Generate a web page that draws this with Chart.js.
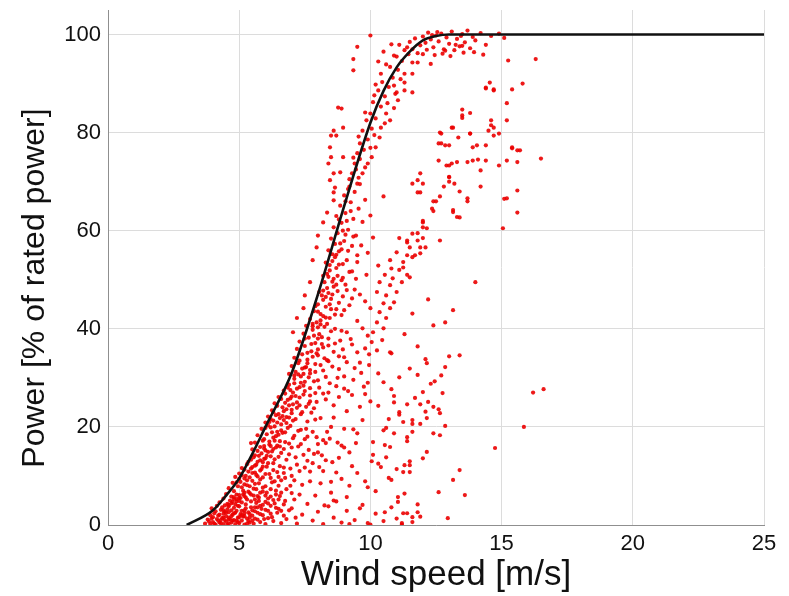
<!DOCTYPE html>
<html>
<head>
<meta charset="utf-8">
<script src="https://cdn.jsdelivr.net/npm/chart.js@4.4.1/dist/chart.umd.min.js"></script>
<style>
  html, body { margin: 0; padding: 0; background: #fff; }
  #wrap { width: 789px; height: 596px; }
</style>
</head>
<body>
<div id="wrap"><canvas id="powerChart" width="789" height="596"></canvas></div>
<script>
// --- axis ticks ---
const xTicks = [0, 5, 10, 15, 20, 25];
const yTicks = [0, 20, 40, 60, 80, 100];

// --- power curve (wind speed m/s, % of rated power) ---
const curveSpeed = [3, 4, 4.5, 5, 5.5, 6, 7, 8, 9, 10, 10.5, 11, 11.5, 12, 12.5, 13, 25];
const curvePower = [0, 3, 6, 9.5, 14.5, 20, 31, 47, 65, 82, 88.5, 93.3, 96.5, 98.8, 99.7, 100, 100];

const bottomDense = [
  [3.7,0.3],[3.8,1.1],[3.9,0.2],[3.9,2.0],[4.0,0.6],[4.0,1.6],[4.1,0.1],[4.1,2.8],[4.2,0.9],[4.2,1.9],
  [4.3,0.4],[4.3,3.1],[4.35,1.4],[4.4,0.2],[4.4,2.3],[4.45,4.0],[4.5,0.7],[4.5,1.8],[4.55,3.2],[4.6,0.3],
  [4.6,2.6],[4.65,1.2],[4.7,4.4],[4.7,0.5],[4.75,2.1],[4.8,3.5],[4.8,1.0],[4.85,0.2],[4.9,2.9],[4.9,4.8],
  [4.95,1.5],[5.0,0.4],[5.0,3.8],[5.05,2.2],[5.1,0.9],[5.1,4.6],[5.15,1.7],[5.2,3.0],[5.2,0.1],[5.25,4.2],
  [5.3,1.3],[5.35,2.6],[5.4,0.5],[5.45,3.6],[5.5,1.9],[5.55,0.3],[5.6,2.8],[5.65,4.5],[5.7,1.1],[5.8,0.6],
  [5.85,3.3],[5.9,2.0],[6.0,0.2],[6.1,1.4],[6.2,3.9],[6.3,0.8],[6.45,2.5],[6.6,0.4],[4.25,4.6],[4.65,5.0],
  [3.95,3.4],[4.15,3.9],[4.55,0.1],[4.85,4.2],[5.35,0.8],[5.75,4.9],
  [3.85,0.7],[3.95,1.3],[4.05,2.4],[4.05,0.3],[4.15,1.2],[4.25,2.1],[4.25,0.5],[4.35,3.6],[4.45,1.0],[4.45,2.7],
  [4.55,4.3],[4.6,1.5],[4.7,3.0],[4.75,0.9],[4.8,5.3],[4.85,2.5],[4.95,3.9],[4.95,0.6],[5.05,5.5],[5.1,2.9],
  [5.15,6.2],[5.2,1.8],[5.25,3.4],[5.3,5.2],[5.35,6.8],[5.4,2.2],[5.45,4.8],[5.5,0.9],[5.55,6.0],[5.6,3.6],
  [5.65,7.3],[5.7,2.5],[5.75,5.6],[5.8,3.9],[5.9,7.6],[5.95,1.2],[6.0,4.7],[6.05,6.6],[6.1,2.9],[6.2,5.8],
  [6.25,1.6],[6.35,4.4],[6.4,7.0],[6.5,3.3],[6.55,5.9],[6.7,1.9],[6.75,4.9],[6.9,3.0],[7.0,6.5],[7.15,1.5],
  [4.3,1.0],[4.4,1.5],[4.5,2.5],[4.6,1.1],[4.7,1.8],[4.8,2.4],[4.9,0.9],[5.0,1.6],[5.1,2.0],[5.2,2.4],
  [5.3,0.3],[5.4,1.5],[5.5,3.0],[5.6,1.3],[5.7,3.6],[5.8,2.2],[5.9,4.1],[6.0,3.1],[6.1,4.4],[6.2,2.3],
  [6.3,5.1],[6.4,3.5],[6.5,5.2],[6.6,2.9],[6.7,4.2],[4.4,3.0],[4.6,3.8],[4.75,4.7],[5.0,5.5],[5.2,5.9]
];
const bottomSparse = [
  [6.8,1.2],[7.0,3.4],[7.2,0.3],[7.4,2.1],[7.6,4.3],[7.8,0.9],[8.0,2.7],[8.2,0.2],[8.4,3.8],[8.6,1.5],
  [8.9,0.5],[9.1,2.9],[9.4,1.0],[9.7,4.1],[9.9,0.4],[10.2,2.3],[10.5,0.8],[10.8,3.6],[11.0,1.3],[11.2,0.1],
  [11.4,2.4],[11.6,0.6],[11.8,4.2],[11.9,1.7],[10.0,0.1],[9.2,0.2],[8.7,4.8],[12.95,1.4],[11.25,2.4],
  [11.8,2.6],[11.6,1.6],[11.2,0.4],[10.55,2.6],[8.25,4.0]
];
const lowBand = [
  [4.4,5.4],[4.5,6.3],[4.6,7.5],[4.7,5.8],[4.75,8.6],[4.8,6.9],[4.85,9.8],[4.9,5.3],[4.95,7.9],[5.0,10.5],
  [5.0,6.1],[5.05,8.8],[5.1,11.6],[5.15,7.0],[5.2,9.5],[5.25,5.6],[5.3,12.4],[5.3,8.1],[5.35,10.9],[5.4,6.5],
  [5.45,13.3],[5.5,9.0],[5.5,11.8],[5.55,7.4],[5.6,14.2],[5.65,10.2],[5.7,5.9],[5.7,12.9],[5.75,8.5],[5.8,11.1],
  [5.85,14.6],[5.9,6.8],[5.9,9.7],[5.95,13.5],[6.0,7.9],[6.05,11.9],[6.1,5.4],[6.15,10.4],[6.2,14.0],[6.25,8.7],
  [6.3,12.6],[6.4,6.2],[6.45,10.8],[6.5,13.9],[6.6,9.1],[6.7,11.7],[6.8,7.3],[6.9,14.4],[7.0,10.0],[7.2,12.3],
  [7.4,8.2],[7.6,13.1],[7.9,6.0],[8.2,11.0],[8.5,8.8],[8.8,13.7],[9.1,5.7],[9.5,10.6],[9.9,7.7],[10.3,12.5],
  [10.8,9.2],[11.3,6.4],[11.5,13.0],[7.1,5.2],[7.7,10.9],[8.0,14.8],[8.6,5.0],[9.3,12.0],[10.1,14.3],[11.0,11.4],
  [8.1,8.5],[8.3,13.2],[8.9,9.4],[10.2,6.9],[10.4,11.8],[8.5,6.6],[9.6,3.4],[9.8,8.9],[10.05,13.0],
  [10.7,9.6],[12.6,6.7],[13.6,6.1],[11.05,5.7],[11.05,4.7],[11.25,10.8],[11.5,10.8],[13.4,11.2],[13.15,9.2],
  [10.6,13.8],[11.3,12.2],[11.5,12.2],[12.0,13.6],[12.15,14.9],
  [4.9,8.7],[5.0,9.4],[5.1,10.1],[5.2,11.3],[5.25,10.0],[5.35,12.9],[5.4,9.7],[5.45,11.5],[5.55,13.8],[5.6,10.7],
  [5.65,12.3],[5.7,15.1],[5.8,9.3],[5.8,13.2],[5.9,11.9],[5.95,15.6],[6.0,10.4],[6.05,14.1],[6.1,12.6],[6.15,17.0],
  [6.2,9.6],[6.25,15.0],[6.3,11.2],[6.35,13.4],[6.4,18.1],[6.45,16.2],[6.5,9.8],[6.55,12.0],[6.6,14.7],[6.65,18.8],
  [6.7,10.6],[6.75,16.9],[6.8,13.3],[6.85,19.8],[6.95,11.5],[7.0,15.8],[7.05,17.7],[7.15,13.8],[7.25,19.2],[7.3,11.0],
  [7.35,16.5],[7.45,14.3],[7.55,19.6],[7.65,15.3],[7.8,12.6],[7.95,17.9],[8.15,14.2],[8.35,19.0],[8.55,12.8],[8.75,16.8],
  [5.45,6.2],[5.6,5.2],[5.8,6.6],[6.0,6.0],[6.2,7.3],[6.35,8.9],[6.6,6.6],[6.5,8.0],[6.75,9.6],[6.95,8.0],
  [7.1,9.1],[7.3,6.2],[7.5,11.7],[7.7,8.9],[7.85,14.5],[8.05,11.8],[8.3,16.7],[8.7,10.7],[9.0,15.8],[9.2,8.0]
];
const coreBand = [
  [4.6,4.1],[4.8,5.7],[5.0,4.9],[5.2,6.6],[4.9,6.2],[5.1,7.7],[5.3,9.1],[5.4,7.9],[5.6,8.4],[5.5,10.6],
  [5.2,8.3],[5.7,9.9],[5.85,11.4],[5.6,12.1],[5.9,12.8],[6.0,13.6],[5.75,14.1],[6.1,14.9],[6.2,16.1],[5.95,17.5],
  [6.3,15.5],[6.35,17.2],[6.5,18.4],[6.25,18.9],[6.6,19.3],[6.55,16.0],[6.7,21.4],[6.45,20.9],[6.8,23.6],[6.65,22.2],
  [6.9,21.9],[7.0,22.8],[6.75,24.9],[7.05,24.6],[7.15,26.3],[6.95,27.5],[7.2,27.8],[7.3,24.4],[7.35,29.0],[7.1,30.5],
  [7.45,30.8],[7.5,27.3],[7.55,32.2],[7.3,33.5],[7.6,35.1],[7.7,31.6],[7.75,36.9],[7.5,38.0],[7.85,38.6],[7.95,35.0],
  [8.0,38.0],[7.8,40.5],[8.1,40.9],[8.15,36.9],[8.2,42.6],[8.0,43.5],[8.3,46.5],[8.35,41.0],[8.45,45.0],[8.2,47.8],
  [8.55,47.0],[8.6,50.2],[8.4,50.6],[8.7,49.0],[8.8,53.1],[8.65,54.6],[8.9,56.2],[8.95,60.0],[9.1,62.0],[9.25,64.0],
  [8.8,62.3],[9.05,66.0],[9.15,68.5]
];
const midBand = [
  [5.5,15.4],[5.6,16.8],[5.7,18.3],[5.8,15.9],[5.85,19.6],[5.9,17.2],[6.0,20.9],[6.0,15.2],[6.05,18.5],[6.1,22.1],
  [6.15,16.4],[6.2,19.9],[6.25,23.4],[6.3,17.8],[6.3,21.3],[6.35,24.8],[6.4,15.8],[6.45,19.0],[6.5,22.6],[6.5,26.1],
  [6.55,17.1],[6.6,20.5],[6.65,24.0],[6.7,27.4],[6.7,15.5],[6.75,18.9],[6.8,22.0],[6.85,25.5],[6.9,28.6],[6.9,16.6],
  [6.95,20.2],[7.0,23.5],[7.05,27.0],[7.1,18.2],[7.1,29.8],[7.15,21.6],[7.2,25.0],[7.25,16.0],[7.3,28.1],[7.35,19.4],
  [7.4,23.0],[7.45,26.6],[7.5,17.5],[7.5,29.2],[7.6,21.1],[7.65,24.7],[7.7,27.9],[7.8,19.0],[7.85,23.8],[7.9,26.9],
  [8.0,29.5],[8.1,21.8],[8.2,17.3],[8.3,25.6],[8.5,20.0],[8.7,28.3],[8.9,16.2],[9.1,23.2],[9.3,26.5],[9.5,18.7],
  [9.7,21.4],[9.9,29.0],[10.1,16.9],[10.3,24.3],[10.6,19.8],[10.8,27.7],[11.1,22.5],[11.4,17.9],[11.7,25.9],[11.9,20.6],
  [12.3,28.8],[12.6,23.6],[10.0,25.2],[9.0,19.6],[8.6,24.4],[8.0,16.5],[7.6,18.0],[6.95,25.8],[6.15,21.0],[5.95,16.1],
  [8.45,17.6],[8.6,21.9],[8.8,26.1],[9.2,14.8],[9.35,19.5],[9.6,24.1],[9.75,28.2],[10.55,16.3],[10.7,21.6],[10.9,25.0],
  [9.45,16.7],[9.15,27.3],[7.9,21.5],[7.7,25.2],[8.4,27.0],[5.45,16.7],
  [11.8,30.6],[12.45,29.3],[10.5,29.1],[12.0,27.1],[12.75,26.9],[10.9,26.3],[11.4,24.6],[11.9,24.6],[12.2,25.1],
  [12.4,24.1],[12.1,23.1],[12.65,22.8],[11.1,23.0],[11.25,21.0],[11.6,21.4],[11.6,20.6],[12.15,21.8],[12.85,20.2],
  [12.4,18.7],[12.65,18.3],[10.5,19.3],[10.9,18.7],[11.6,19.0],[11.4,17.1],[10.75,15.9],
  [6.0,19.8],[6.1,20.3],[6.2,21.6],[6.3,23.0],[6.35,20.1],[6.4,22.4],[6.45,24.3],[6.55,21.8],[6.6,25.7],[6.7,23.2],
  [6.75,26.8],[6.8,20.8],[6.85,28.0],[6.9,24.4],[7.0,26.2],[7.05,21.3],[7.1,28.9],[7.2,23.9],[7.25,30.7],[7.3,26.0],
  [7.35,22.6],[7.4,31.9],[7.45,28.4],[7.55,24.1],[7.6,33.0],[7.65,30.1],[7.7,26.4],[7.75,22.9],[7.8,34.3],[7.85,29.3],
  [7.9,31.2],[7.95,25.1],[8.0,35.8],[8.05,28.0],[8.1,32.6],[8.15,38.3],[8.2,26.8],[8.25,34.0],[8.3,30.2],[8.4,36.6],
  [8.45,28.9],[8.5,39.5],[8.55,32.3],[8.65,37.0],[8.75,30.0],[8.8,34.4],[8.9,39.6],[9.0,27.8],[9.1,33.2],[9.25,37.9],
  [9.35,29.6],[9.5,35.2],[9.65,31.0],[9.8,26.7],[9.95,34.8]
];
const upperBand = [
  [6.9,30.8],[7.0,32.4],[7.1,34.1],[7.15,31.2],[7.2,35.9],[7.25,33.0],[7.3,37.4],[7.35,30.3],[7.4,34.8],[7.45,39.0],
  [7.5,32.1],[7.5,36.5],[7.55,40.6],[7.6,33.7],[7.65,38.2],[7.7,42.0],[7.7,30.9],[7.75,35.4],[7.8,39.8],[7.85,43.6],
  [7.9,32.8],[7.9,37.1],[7.95,41.3],[8.0,45.0],[8.0,34.6],[8.05,38.9],[8.1,43.0],[8.15,46.8],[8.2,31.5],[8.2,36.2],
  [8.25,40.4],[8.3,44.5],[8.35,48.3],[8.4,33.4],[8.4,38.0],[8.45,42.2],[8.5,46.1],[8.55,49.6],[8.6,35.3],[8.65,40.0],
  [8.7,44.0],[8.75,47.7],[8.8,31.8],[8.85,37.6],[8.9,42.8],[8.95,46.6],[9.0,34.2],[9.05,49.0],[9.1,39.3],[9.2,44.8],
  [9.3,36.8],[9.4,48.0],[9.5,41.6],[9.6,33.1],[9.8,45.6],[9.9,38.6],[10.0,44.2],[10.05,37.3],[10.25,41.3],[10.25,35.6],
  [10.35,43.4],[10.5,40.1],[10.5,45.2],[10.6,46.8],[10.6,42.2],[10.75,48.9],[10.75,35.2],[10.75,44.2],[10.9,45.4],[11.0,47.5],
  [10.45,37.7],[10.1,39.3],[9.7,40.1],[9.8,36.0],[10.25,47.5],[10.35,49.5],[11.2,49.5],[11.5,31.9],[11.8,36.4],[12.1,33.8],
  [12.4,40.7],[12.7,30.5],[12.85,41.3],[13.15,43.8],[12.2,46.0],[11.6,43.1],[11.3,38.9],[14.0,49.5],[13.4,34.6],
  [7.05,39.3],[7.2,42.2],[7.45,44.2],[7.5,46.8],[7.7,49.5],[9.0,30.3],[9.95,32.6],[11.1,30.1],[8.35,33.6],[8.95,35.8],
  [9.4,32.0],[10.3,30.9],[10.8,35.0],[13.0,34.4],[12.15,33.0],[12.85,32.2],
  [7.8,41.0],[7.9,44.6],[8.0,40.3],[8.05,47.5],[8.1,41.7],[8.2,45.9],[8.25,49.5],[8.3,42.3],[8.4,47.3],[8.45,51.9],
  [8.5,44.0],[8.55,53.8],[8.6,48.6],[8.65,42.9],[8.7,55.1],[8.75,50.8],[8.8,45.3],[8.85,57.4],[8.9,49.9],[8.95,53.2],
  [9.0,43.8],[9.05,59.2],[9.1,47.9],[9.15,55.9],[9.2,51.6],[9.3,46.2],[9.35,58.8],[9.45,50.2],[9.5,55.0],[9.6,47.0]
];
const highBand = [
  [8.2,50.8],[8.3,53.5],[8.35,51.2],[8.4,56.0],[8.45,53.0],[8.5,58.4],[8.55,55.2],[8.6,60.7],[8.65,57.3],[8.7,52.4],
  [8.7,63.0],[8.75,59.5],[8.8,55.8],[8.85,65.1],[8.9,61.6],[8.95,50.4],[9.0,57.9],[9.0,67.2],[9.05,63.6],[9.1,54.0],
  [9.15,60.2],[9.2,69.0],[9.25,65.8],[9.3,51.7],[9.3,56.9],[9.35,62.4],[9.4,67.9],[9.45,59.0],[9.5,53.6],[9.55,64.5],
  [9.6,69.5],[9.65,57.0],[9.7,61.8],[9.8,66.3],[9.85,51.0],[9.9,55.5],[10.0,63.1],[10.1,58.6],[10.3,52.9],[10.5,67.0],
  [10.75,54.0],[10.8,52.3],[11.1,52.0],[10.55,51.0],[10.85,50.3],[11.4,51.0],[11.25,53.6],[11.4,55.0],[11.7,55.0],[11.0,55.6],
  [11.4,57.6],[11.5,56.6],[11.9,56.6],[11.1,58.5],[11.8,59.5],[12.0,58.5],[12.0,61.7],[12.15,60.5],[12.4,64.0],[12.5,66.0],
  [12.65,58.0],[11.6,59.4],[11.8,58.0],[11.4,58.0],[11.9,55.4],[12.1,56.6],[11.6,54.6],[11.25,52.5],[11.5,50.5],
  [12.0,62.0],[12.0,60.7],[13.4,62.7],[13.15,64.2],[13.7,66.6],[15.05,60.5],[15.6,63.7],[15.2,66.6],[11.9,67.8],[11.8,67.8],
  [11.6,69.6],[12.35,64.5],[12.4,66.0],[12.65,67.0],[13.15,63.8],[13.3,62.8],[13.7,66.0],[13.4,68.0],[12.8,69.0],[14.2,69.0],
  [15.6,68.2],[15.1,66.5],[7.8,54.0],[7.95,56.6],[8.0,59.0],[8.2,61.7],[8.35,63.7],[8.6,66.2],[8.6,67.8]
];
const topBand = [
  [8.46,70.3],[8.65,68.8],[8.6,71.7],[8.85,71.9],[8.4,73.7],[8.5,75.0],[8.96,75.0],[8.46,77.0],[8.5,79.4],[8.7,79.4],
  [8.6,80.4],[8.96,81.0],[8.77,85.1],[8.9,84.9],[9.35,92.7],[9.35,95.0],[9.5,97.5],[10.0,99.8],
  [9.3,71.7],[9.4,73.7],[9.5,75.8],[9.6,77.8],[9.7,80.4],[9.85,82.5],[10.0,83.9],[10.1,86.2],[10.3,88.6],[9.5,69.6],
  [9.7,71.7],[9.9,73.7],[10.05,75.0],[10.2,77.0],[10.35,79.0],[10.55,81.9],[10.6,83.9],[10.75,82.5],[10.9,85.0],[11.05,86.6],
  [11.0,88.2],[10.9,89.6],[11.3,88.6],[11.6,88.2],[11.3,90.2],[11.3,92.0],[11.6,92.0],[11.6,94.3],[11.8,94.3],[12.3,94.0],
  [12.0,96.0],[12.85,96.7],[13.5,97.7],[9.45,72.5],[9.6,74.6],[9.75,76.5],[9.9,78.6],[10.05,80.8],[10.2,82.9],[10.4,85.3],
  [10.55,87.4],[10.7,89.3],[10.85,91.2],[11.05,92.8],[11.2,94.6],[11.45,96.0],[9.55,70.8],[9.8,72.9],[10.0,76.9],[10.15,79.5],
  [10.4,81.0],[10.65,86.0],[10.95,87.9],[11.15,90.9],[9.2,70.5],[9.35,74.9],[9.55,79.2],[9.8,84.1],[10.15,87.6],[10.45,90.3],
  [10.75,93.4],[11.0,95.5],[11.4,97.4]
];
const rightCluster = [
  [11.8,70.3],[12.0,69.6],[13.0,70.9],[11.9,71.7],[13.0,71.0],[13.0,70.0],[13.2,69.6],[12.6,74.3],[12.9,73.3],[13.3,74.0],
  [13.9,74.3],[14.4,74.3],[14.9,73.3],[15.2,74.3],[15.6,74.0],[16.5,74.7],[15.4,76.8],[15.7,76.4],[13.0,73.3],[13.1,73.7],
  [14.2,72.3],[14.1,74.5],[13.7,74.0],[12.7,77.8],[13.0,77.4],[14.06,77.4],[14.4,77.4],[12.6,77.8],[12.85,77.4],[13.9,77.0],
  [15.4,77.0],[15.6,76.4],[12.65,80.0],[13.1,81.0],[13.15,81.0],[12.7,79.8],[13.35,79.0],[13.8,79.8],[14.5,80.4],[14.6,81.5],
  [14.7,79.4],[14.9,79.8],[15.2,82.5],[14.6,82.5],[14.7,81.0],[13.5,84.7],[13.5,83.0],[13.8,84.0],[13.5,83.5],[15.2,86.0],
  [14.4,89.0],[14.7,88.8],[15.4,88.8],[15.8,90.0],[14.55,90.2],[14.4,89.2],[14.7,88.6],[15.25,94.7],[16.3,95.0],[13.8,79.8]
];
const ratedBand = [
  [11.5,98.5],[11.7,99.2],[11.9,97.8],[12.0,99.6],[12.1,98.3],[12.2,100.4],[12.3,99.0],[12.4,97.4],[12.5,99.8],[12.6,98.6],
  [12.7,100.2],[12.8,97.0],[12.9,99.4],[13.0,98.1],[13.1,100.6],[13.2,96.8],[13.3,99.1],[13.4,97.6],[13.5,100.1],[13.6,98.4],
  [13.7,100.8],[13.8,97.2],[13.9,99.5],[14.0,98.8],[14.2,100.3],[14.4,97.9],[14.6,99.7],[14.9,100.2],[15.1,99.3],[11.6,97.0],
  [11.8,96.2],[12.15,96.9],[12.45,95.8],[12.75,96.1],[13.05,95.6],[13.25,97.9],[13.55,96.3],[11.3,96.8],[11.1,97.9],[10.9,95.7],
  [10.6,93.9],[10.4,92.0],[10.2,89.8],[12.55,100.5],[13.45,99.7],[12.35,99.9],[13.95,96.4],[14.3,95.9],[10.8,98.0],[10.5,96.5],
  [10.3,94.5]
];
const outliers = [
  [16.6,27.7],[16.2,27.0],[15.85,20.0],[14.75,15.7]
];

// --- y axis title drawn by hand so it sits where the original has it ---
const yTitlePlugin = {
  id: 'yTitle',
  afterDraw(chart) {
    const ctx = chart.ctx;
    ctx.save();
    ctx.translate(35, 288);
    ctx.rotate(-Math.PI / 2);
    ctx.font = '32px "Liberation Sans", Arial, sans-serif';
    ctx.fillStyle = '#111';
    ctx.textAlign = 'center';
    ctx.textBaseline = 'middle';
    ctx.fillText('Power [% of rated power]', 0, 0);
    ctx.restore();
  }
};

const scatterPoints = [].concat(bottomDense, bottomSparse, lowBand, coreBand, midBand, upperBand,
  highBand, topBand, rightCluster, ratedBand, outliers).map(([x, y]) => ({ x, y }));
const curvePoints = curveSpeed.map((v, i) => ({ x: v, y: curvePower[i] }));

const tickFont = { family: '"Liberation Sans", Arial, sans-serif', size: 22 };

new Chart(document.getElementById('powerChart'), {
  type: 'scatter',
  data: {
    datasets: [
      {
        type: 'line',
        data: curvePoints,
        borderColor: '#111',
        borderWidth: 2.6,
        pointRadius: 0,
        fill: false,
        cubicInterpolationMode: 'monotone',
        order: 0
      },
      {
        data: scatterPoints,
        backgroundColor: 'rgba(235,0,0,0.9)',
        borderWidth: 0,
        pointRadius: 2.1,
        pointHoverRadius: 2.1,
        order: 1
      }
    ]
  },
  options: {
    responsive: false,
    animation: false,
    devicePixelRatio: 1,
    layout: { padding: { top: 10, right: 25, left: 0, bottom: 0 } },
    plugins: { legend: { display: false }, tooltip: { enabled: false } },
    scales: {
      x: {
        type: 'linear',
        min: 0,
        max: 25,
        afterBuildTicks: axis => { axis.ticks = xTicks.map(v => ({ value: v })); },
        afterFit: axis => { axis.height = 71; axis.paddingLeft = 0; axis.paddingRight = 0; },
        grid: { color: '#dcdcdc', drawTicks: false },
        border: { color: '#8f8f8f', width: 1 },
        ticks: { font: tickFont, color: '#111', padding: 6, maxRotation: 0 },
        title: {
          display: true,
          text: 'Wind speed [m/s]',
          font: { family: '"Liberation Sans", Arial, sans-serif', size: 35 },
          color: '#111',
          padding: { top: 0, bottom: 0 }
        }
      },
      y: {
        type: 'linear',
        min: 0,
        max: 105,
        afterBuildTicks: axis => { axis.ticks = yTicks.map(v => ({ value: v })); },
        afterFit: axis => { axis.width = 108; axis.paddingTop = 0; axis.paddingBottom = 0; },
        grid: { color: '#dcdcdc', drawTicks: false },
        border: { color: '#8f8f8f', width: 1 },
        ticks: { font: tickFont, color: '#111', padding: 7 }
      }
    }
  },
  plugins: [yTitlePlugin]
});
</script>
</body>
</html>
